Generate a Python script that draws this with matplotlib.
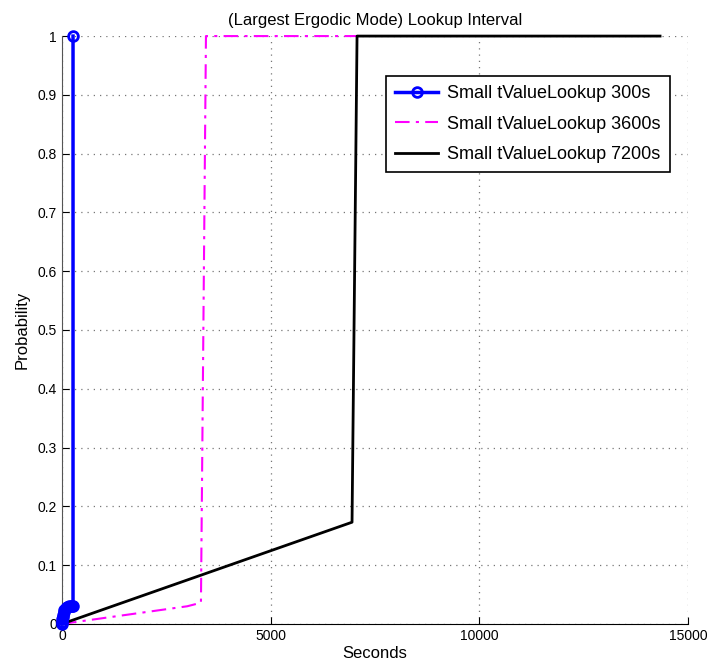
import numpy as np
import matplotlib
matplotlib.use("Agg")
import matplotlib.pyplot as plt

plt.rcParams['font.family'] = ['Liberation Sans', 'DejaVu Sans']

# 300s lookup
x300 = [0, 3, 8, 15, 25, 40, 60, 90, 130, 170, 210, 250, 265, 265]
y300 = [0, 0.004, 0.008, 0.012, 0.016, 0.02, 0.024, 0.027, 0.029, 0.03, 0.03, 0.03, 0.03, 1.0]

# 3600s lookup
x3600 = [0, 800, 1600, 2400, 3000, 3330, 3450, 7100]
y3600 = [0, 0.008, 0.016, 0.024, 0.03, 0.036, 1.0, 1.0]

# 7200s lookup
x7200 = [0, 6950, 7070, 14330]
y7200 = [0, 0.173, 1.0, 1.0]

fig = plt.figure(figsize=(7.09, 6.68), dpi=100)
ax = fig.add_axes([0.0874, 0.066, 0.883, 0.880])

ax.plot(x300, y300, color='blue', lw=2.5, marker='o', ms=7, mfc='none', mew=2,
        label='Small tValueLookup 300s', clip_on=False, zorder=5)
ax.plot(x3600, y3600, color='magenta', lw=1.5, ls=(0, (7, 3, 1.5, 3)),
        label='Small tValueLookup 3600s', clip_on=False, zorder=4)
ax.plot(x7200, y7200, color='black', lw=2, label='Small tValueLookup 7200s',
        clip_on=False, zorder=4)

ax.set_xlim(0, 15000)
ax.set_ylim(0, 1)
ax.set_xticks([0, 5000, 10000, 15000])
ax.set_yticks(np.arange(0, 1.01, 0.1))
ax.set_yticklabels(['0', '0.1', '0.2', '0.3', '0.4', '0.5', '0.6', '0.7', '0.8', '0.9', '1'])
ax.tick_params(direction='in', labelsize=10, length=5)
ax.grid(True, ls=(0, (1, 4)), color='#777777', lw=0.9)
ax.spines['top'].set_visible(False)
ax.spines['right'].set_visible(False)
ax.spines['left'].set_color('#555555')

ax.set_title('(Largest Ergodic Mode) Lookup Interval', fontsize=12, pad=8)
ax.set_xlabel('Seconds', fontsize=12, labelpad=2)
ax.set_ylabel('Probability', fontsize=12, labelpad=6)

leg = ax.legend(loc='upper right', bbox_to_anchor=(0.971, 0.932), fontsize=13,
                fancybox=False, framealpha=1, edgecolor='black', handlelength=2.4,
                labelspacing=0.75, borderaxespad=0, borderpad=0.5, handletextpad=0.5)
leg.get_frame().set_linewidth(1.2)

fig.savefig('out.png', dpi=100)
